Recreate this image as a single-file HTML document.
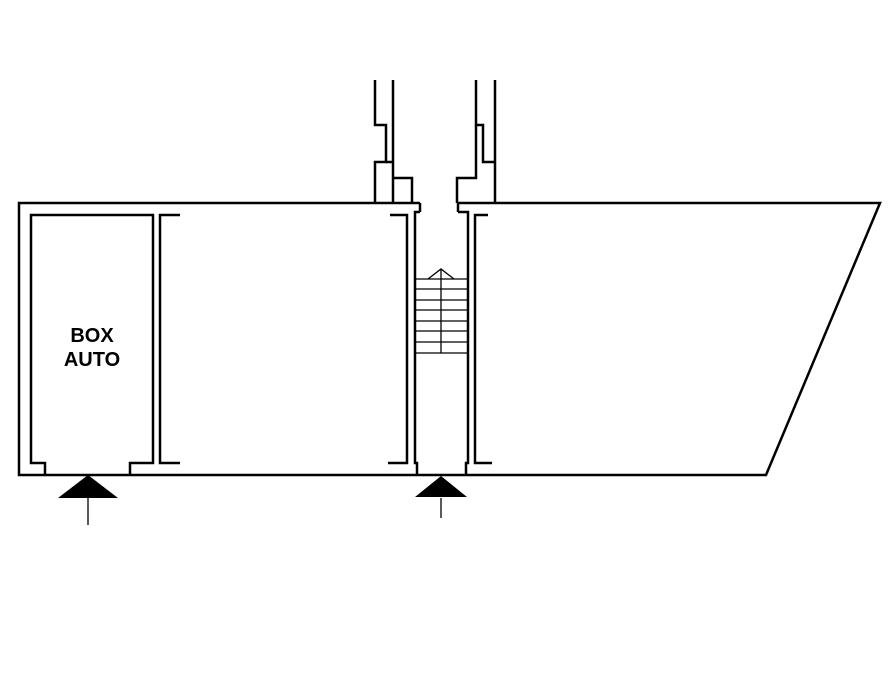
<!DOCTYPE html>
<html><head><style>html,body{margin:0;padding:0;background:#fff}</style></head>
<body>
<svg width="893" height="670" xmlns="http://www.w3.org/2000/svg">
<g fill="none" stroke="#000" stroke-width="2.5">
<polyline points="420,203 19,203 19,475 766,475 880,203 458,203"/>
<polyline points="420,203 420,212"/>
<polyline points="458,203 458,212"/>
<polyline points="45,475 45,463 31,463 31,215 153,215 153,463 130,463 130,475"/>
<polyline points="180,215 160,215 160,463 180,463"/>
<polyline points="390,215 407,215 407,463 388,463"/>
<polyline points="420,212 415,212 415,463 417,463 417,475"/>
<polyline points="458,212 468,212 468,463 466,463 466,475"/>
<polyline points="488,215 475,215 475,463 492,463"/>
<polyline points="375,80 375,125 386,125 386,162 375,162 375,203"/>
<polyline points="393,80 393,203"/>
<line x1="386" y1="162" x2="393" y2="162"/>
<polyline points="393,178 412,178 412,203"/>
<polyline points="495,80 495,203"/>
<polyline points="476,80 476,125 483,125 483,162 495,162"/>
<polyline points="476,125 476,178 457,178 457,203"/>
</g>
<g stroke="#000" stroke-width="1.3">
<line x1="416" y1="279" x2="467" y2="279"/>
<line x1="416" y1="289" x2="467" y2="289"/>
<line x1="416" y1="300" x2="467" y2="300"/>
<line x1="416" y1="310" x2="467" y2="310"/>
<line x1="416" y1="321" x2="467" y2="321"/>
<line x1="416" y1="331" x2="467" y2="331"/>
<line x1="416" y1="342" x2="467" y2="342"/>
<line x1="416" y1="353" x2="467" y2="353"/>
<line x1="441" y1="269" x2="441" y2="353"/>
<polyline fill="none" points="428,279 441,269 454,279"/>
<line x1="88" y1="498" x2="88" y2="525"/>
<line x1="441" y1="498" x2="441" y2="518"/>
</g>
<polygon points="58,498 88,475 118,498" fill="#000"/>
<polygon points="415,497 441,476 467,497" fill="#000"/>
<text x="92" y="342" font-family="Liberation Sans, sans-serif" font-weight="bold" font-size="20" text-anchor="middle">BOX</text>
<text x="92" y="366" font-family="Liberation Sans, sans-serif" font-weight="bold" font-size="20" text-anchor="middle">AUTO</text>
</svg>
</body></html>
